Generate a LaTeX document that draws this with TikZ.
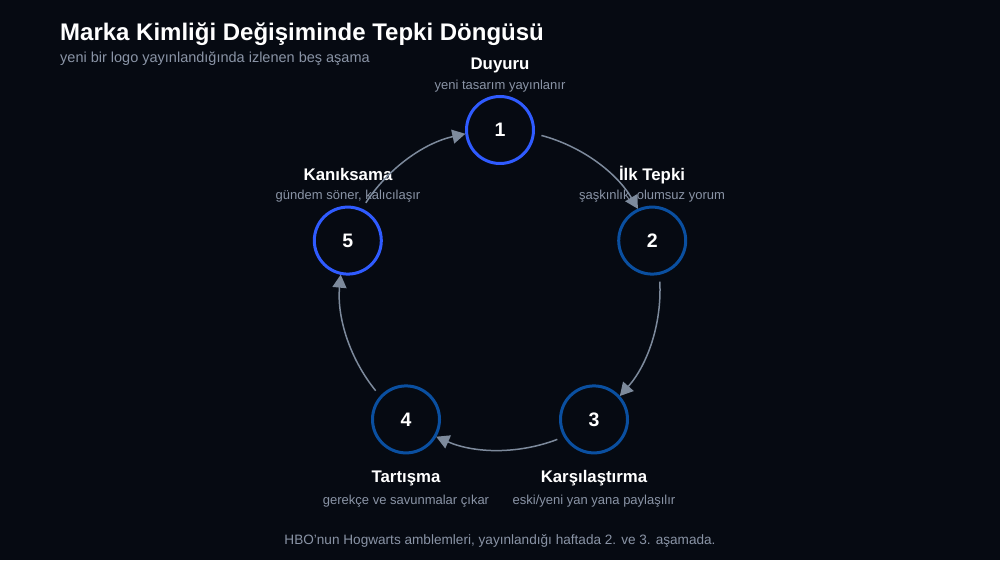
\documentclass[tikz,border=0pt]{standalone}
\usepackage{fontspec}
\setmainfont{Liberation Sans}
\usetikzlibrary{arrows.meta}
\definecolor{bg}{HTML}{060A12}
\definecolor{bright}{HTML}{2F5BFF}
\definecolor{deep}{HTML}{0A4FA0}
\definecolor{arrowc}{HTML}{7D8A9C}
\definecolor{subc}{HTML}{8A94A6}
\tikzset{
  stage/.style={circle, minimum size=67pt, inner sep=0pt, line width=3pt, fill=bg, text=white, font=\bfseries\fontsize{19.5}{22}\selectfont},
  lbl/.style={anchor=base, text=white, font=\bfseries\fontsize{16.8}{19}\selectfont, inner sep=0pt},
  sublbl/.style={anchor=base, text=subc, font=\fontsize{13}{15}\selectfont, inner sep=0pt},
  arr/.style={draw=arrowc, line width=1.5pt, -{Triangle[length=13pt,width=14pt]}}
}
\begin{document}
\begin{tikzpicture}[x=1pt,y=1pt]
\fill[bg] (0,0) rectangle (1000,560);
\useasboundingbox (0,0) rectangle (1000,560);
% title
\node[anchor=base west, inner sep=0pt, text=white, font=\bfseries\fontsize{24}{28}\selectfont] (title) at (60,519) {Marka Kimliği Değişiminde Tepki Döngüsü};
\node[anchor=base west, inner sep=0pt, text=subc, font=\fontsize{14.5}{17}\selectfont] (subtitle) at (60,497) {yeni bir logo yayınlandığında izlenen beş aşama};
% labels
\node[lbl] (l1) at (500,490) {Duyuru};
\node[sublbl] (s1) at (500,470) {yeni tasarım yayınlanır};
\node[lbl] (l2) at (652,379) {İlk Tepki};
\node[sublbl] (s2) at (652,360) {şaşkınlık, olumsuz yorum};
\node[lbl] (l5) at (348,379) {Kanıksama};
\node[sublbl] (s5) at (348,360) {gündem söner, kalıcılaşır};
\node[lbl] (l3) at (594,78) {Karşılaştırma};
\node[sublbl] (s3) at (594,56) {eski/yeni yan yana paylaşılır};
\node[lbl] (l4) at (406,78) {Tartışma};
\node[sublbl] (s4) at (406,56) {gerekçe ve savunmalar çıkar};
% stages
\node[stage, draw=bright] (n1) at (500,430) {1};
\node[stage, draw=deep] (n2) at (652.2,319.4) {2};
\node[stage, draw=deep] (n3) at (594,140.6) {3};
\node[stage, draw=deep] (n4) at (406,140.6) {4};
\node[stage, draw=bright] (n5) at (347.8,319.4) {5};
% arrow start points on the cycle circle
\coordinate (c) at (500,270);
\coordinate (a12) at ([shift={(c)}]75:160);
\coordinate (a23) at ([shift={(c)}]3:160);
\coordinate (a34) at ([shift={(c)}]-69:160);
\coordinate (a45) at ([shift={(c)}]-141:160);
\coordinate (a51) at ([shift={(c)}]147:160);
\draw[arr] (a12) arc[start angle=75, end angle=30.5, radius=160];
\draw[arr] (a23) arc[start angle=3, end angle=-41.5, radius=160];
\draw[arr] (a34) arc[start angle=-69, end angle=-113.5, radius=160];
\draw[arr] (a45) arc[start angle=-141, end angle=-185.5, radius=160];
\draw[arr] (a51) arc[start angle=147, end angle=102.5, radius=160];
% footer
\node[anchor=base, inner sep=0pt, text=subc, font=\fontsize{13.6}{16}\selectfont] (foot) at (500,16) {HBO'nun Hogwarts amblemleri, yayınlandığı haftada 2. ve 3. aşamada.};
\end{tikzpicture}
\end{document}
